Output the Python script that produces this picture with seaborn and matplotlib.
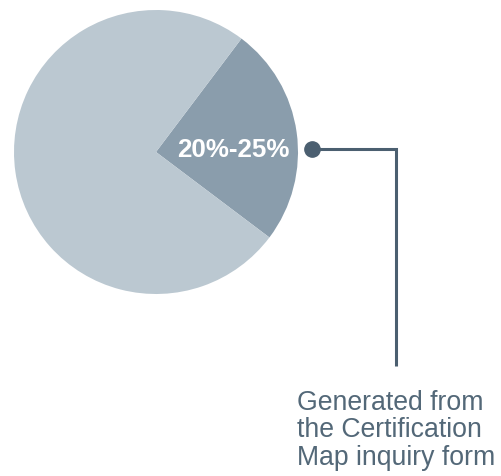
import matplotlib
matplotlib.use("Agg")
import matplotlib.pyplot as plt
import seaborn as sns

# data
segments = ["20%-25%", "Other"]
values = [25, 75]
slice_label = "20%-25%"
note_lines = ["Generated from", "the Certification", "Map inquiry form"]

sns.set_theme(style="white")
plt.rcParams['font.family'] = ['Liberation Sans', 'DejaVu Sans']

colors = ["#8a9dac", "#bbc8d1"]
dark = "#4b5f70"
text_col = "#536878"

W, H = 501, 477
fig = plt.figure(figsize=(W / 100, H / 100), dpi=100)
ax = fig.add_axes([0, 0, 1, 1])

cx, cy, r = 156, H - 153, 142
ax.pie(values, colors=colors, startangle=53, counterclock=False,
       center=(cx, cy), radius=r, frame=True,
       wedgeprops=dict(linewidth=0))
ax.set_xlim(0, W)
ax.set_ylim(0, H)
ax.set_aspect('equal')
ax.axis('off')

ax.text(233, H - 150, slice_label, color="white", fontsize=18.7,
        fontweight="bold", ha="center", va="center")

# connector
dy = H - 150
ax.plot([312, 396, 396], [dy, dy, H - 367], color=dark, lw=2.2,
        solid_joinstyle="miter", solid_capstyle="butt")
ax.plot([312], [dy], marker="o", markersize=11, color=dark)

for i, line in enumerate(note_lines):
    ax.text(297, H - 410 - i * 27.5, line, color=text_col, fontsize=19.2,
            ha="left", va="baseline")

fig.savefig("out.png", dpi=100)
